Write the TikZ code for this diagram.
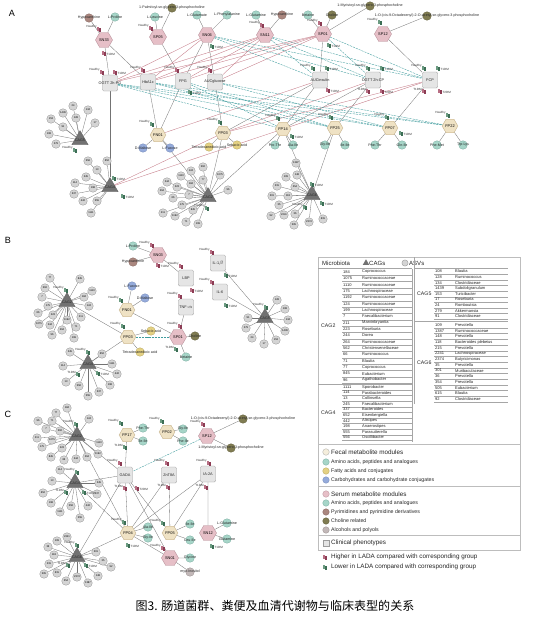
\documentclass[tikz,border=0pt]{standalone}
\usepackage{fontspec}
\setmainfont{Liberation Sans}
\newfontfamily\cjk{Noto Sans CJK SC}
\usetikzlibrary{shapes.geometric}
\pgfdeclarelayer{bg}
\pgfsetlayers{bg,main}
\definecolor{serumF}{HTML}{E6BFC7}
\definecolor{serumD}{HTML}{B08690}
\definecolor{fecalF}{HTML}{EFE2C4}
\definecolor{fecalD}{HTML}{BCA67C}
\definecolor{clinF}{HTML}{E5E5E5}
\definecolor{clinD}{HTML}{9C9C9C}
\definecolor{asvF}{HTML}{D4D4D4}
\definecolor{asvD}{HTML}{878787}
\definecolor{cagF}{HTML}{727272}
\definecolor{aminoF}{HTML}{A6D5C8}
\definecolor{aminoD}{HTML}{6EA596}
\definecolor{fattyF}{HTML}{E4D183}
\definecolor{fattyD}{HTML}{B09C4E}
\definecolor{carbF}{HTML}{95ABDB}
\definecolor{carbD}{HTML}{6A80B2}
\definecolor{pyrF}{HTML}{AA877F}
\definecolor{pyrD}{HTML}{7C5C55}
\definecolor{cholF}{HTML}{807C52}
\definecolor{cholD}{HTML}{57542F}
\definecolor{alcF}{HTML}{C2B8B8}
\definecolor{alcD}{HTML}{8E8484}
\definecolor{edgeR}{HTML}{C67C88}
\definecolor{edgeT}{HTML}{3F9C9E}
\definecolor{mkR}{HTML}{8C3C54}
\definecolor{mkRL}{HTML}{B86F84}
\definecolor{mkG}{HTML}{3C6E55}
\definecolor{mkGL}{HTML}{6C9C82}
\definecolor{boxD}{HTML}{BDBDBD}
\tikzset{
 lbl/.style={font=\fontsize{3.6}{4}\selectfont, inner sep=0pt, text=black!85},
 clbl/.style={font=\fontsize{3.8}{4}\selectfont, inner sep=0pt, text=black!85},
 plbl/.style={font=\fontsize{9}{10}\selectfont, inner sep=0pt},
 mklbl/.style={font=\fontsize{3}{3.5}\selectfont, inner sep=0pt, text=black!80},
 serum/.style={regular polygon, regular polygon sides=6, minimum size=6mm, inner sep=0pt, fill=serumF, draw=serumD, line width=0.3pt, font=\fontsize{3.9}{4}\selectfont},
 fecal/.style={regular polygon, regular polygon sides=6, minimum size=5.5mm, inner sep=0pt, fill=fecalF, draw=fecalD, line width=0.3pt, font=\fontsize{3.9}{4}\selectfont},
 clinic/.style={rectangle, rounded corners=0.5mm, minimum width=5.4mm, minimum height=5.6mm, fill=clinF, draw=clinD, line width=0.3pt},
 asv/.style={circle, minimum size=3mm, inner sep=0pt, fill=asvF, draw=asvD, line width=0.25pt, font=\fontsize{2.6}{3}\selectfont},
 cag/.style={regular polygon, regular polygon sides=3, minimum size=6.6mm, inner sep=0pt, fill=cagF, draw=cagF!80!black, line width=0.3pt},
 metb/.style={circle, minimum size=3mm, inner sep=0pt, line width=0.25pt},
 amino/.style={metb, fill=aminoF, draw=aminoD},
 fatty/.style={metb, fill=fattyF, draw=fattyD},
 carb/.style={metb, fill=carbF, draw=carbD},
 pyr/.style={metb, fill=pyrF, draw=pyrD},
 chol/.style={metb, fill=cholF, draw=cholD},
 alc/.style={metb, fill=alcF, draw=alcD},
 memb/.style={draw=black!55, line width=0.3pt},
 posedge/.style={draw=edgeR, line width=0.35pt},
 negedge/.style={draw=edgeT, line width=0.35pt, dash pattern=on 2.2pt off 0.9pt},
 tbl/.style={font=\fontsize{4}{4.5}\selectfont, inner sep=0pt, anchor=west, text=black!85},
 tline/.style={draw=black!35, line width=0.2pt},
 legh/.style={font=\fontsize{6.3}{7}\selectfont, inner sep=0pt, anchor=west, text=black!85},
 legs/.style={font=\fontsize{5.2}{6}\selectfont, inner sep=0pt, anchor=west, text=black!85},
 pics/hmk/.style={code={\fill[mkRL] (-1.8,-2.4) rectangle (0.2,2.2); \fill[mkR] (0,-1.2) rectangle (2,2.6); \node[mklbl,anchor=east] at (-2.2,-2) {#1};}},
 pics/hmkr/.style={code={\fill[mkRL] (-1.8,-2.4) rectangle (0.2,2.2); \fill[mkR] (0,-1.2) rectangle (2,2.6); \node[mklbl,anchor=west] at (2.4,1) {#1};}},
 pics/lmk/.style={code={\fill[mkGL] (-1.8,-2.4) rectangle (0.2,2.2); \fill[mkG] (0,-1.2) rectangle (2,2.6); \node[mklbl,anchor=east] at (-2.2,-2) {#1};}},
 pics/lmkr/.style={code={\fill[mkGL] (-1.8,-2.4) rectangle (0.2,2.2); \fill[mkG] (0,-1.2) rectangle (2,2.6); \node[mklbl,anchor=west] at (2.4,1) {#1};}},
}
\newcommand{\met}[5]{\node[#2] (#1) at (#3,#4) {}; \node[lbl] (#1t) at (#1) {#5};}
\newcommand{\clin}[4]{\node[clinic] (#1) at (#2,#3) {}; \node[clbl] (#1t) at (#1) {#4};}
\newcommand{\cagn}[4]{\node[cag] (#1) at (#2,#3) {}; \node[lbl] (#1t) at (#1) {#4};}
\newcommand{\asvs}[3]{\foreach \x/\y/\t in {#3}{\node[asv] (#1-\t) at (\x,\y) {\t}; \begin{pgfonlayer}{bg}\draw[memb] (#1-\t) -- (#2);\end{pgfonlayer}}}
\newcommand{\links}[2]{\begin{pgfonlayer}{bg}\foreach \a/\b in {#2}{\draw[#1] (\a) -- (\b);}\end{pgfonlayer}}
\newcommand{\hms}[1]{\foreach \x/\y/\t in {#1}{\pic at (\x,\y) {hmk=\t};}}
\newcommand{\hmrs}[1]{\foreach \x/\y/\t in {#1}{\pic at (\x,\y) {hmkr=\t};}}
\newcommand{\lms}[1]{\foreach \x/\y/\t in {#1}{\pic at (\x,\y) {lmk=\t};}}
\newcommand{\lmrs}[1]{\foreach \x/\y/\t in {#1}{\pic at (\x,\y) {lmkr=\t};}}
\begin{document}
\begin{tikzpicture}[x=0.35mm,y=-0.35mm]
\begin{pgfonlayer}{bg}
\fill[white] (0,0) rectangle (548,624);
\end{pgfonlayer}
\useasboundingbox (0,0) rectangle (548,624);

%%%%%%%%%%%%%%%% PANEL A
\node[plbl] (pA) at (12,13) {A};
\met{hypA}{pyr}{89}{18}{Hypoxanthine}
\met{proA}{amino}{115}{17}{L-Proline}
\met{palA}{chol}{172}{8}{1-Palmitoyl-sn-glycero-3-phosphocholine}
\met{leuA}{amino}{155}{17}{L-Leucine}
\met{gluA}{amino}{197}{15}{L-Glutamate}
\met{pheA}{amino}{227}{15}{L-Phenylalanine}
\met{glnA}{amino}{256}{15}{L-Glutamine}
\met{hyxA}{pyr}{282}{15}{Hypoxanthine}
\met{betA}{amino}{308}{15}{Betaine}
\met{choA}{chol}{332}{15}{Choline}
\met{myrA}{chol}{370}{6}{1-Myristoyl-sn-glycero-3-phosphocholine}
\met{oleA}{chol}{427}{16}{1-O-(cis-9-Octadecenyl)-2-O-acetyl-sn-glycero-3-phosphocholine}

\node[serum] (sn33) at (104,40) {SN33};
\node[serum] (sp05) at (158,37) {SP05};
\node[serum] (sn06) at (207,35) {SN06};
\node[serum] (sn11) at (265,35) {SN11};
\node[serum] (sp01) at (323,34) {SP01};
\node[serum] (sp12) at (383,34) {SP12};

\clin{ogA}{110}{83}{OGTT 2h-PG}
\clin{hbA}{148}{82}{HbA1c}
\clin{fpgA}{183}{81}{FPG}
\clin{aucgA}{215}{82}{AUCglucose}
\clin{auciA}{320}{80}{AUCinsulin}
\clin{ogcA}{373}{80}{OGTT 2h-CP}
\clin{fcpA}{430}{80}{FCP}

\node[fecal] (fn01A) at (158,135) {FN01};
\node[fecal] (fp03A) at (223,133) {FP03};
\node[fecal] (fp14A) at (283,129) {FP14};
\node[fecal] (fp25A) at (335,128) {FP25};
\node[fecal] (fp07A) at (390,128) {FP07};
\node[fecal] (fp22A) at (450,126) {FP22};

\met{maltA}{carb}{143}{148}{D-Maltose}
\met{fucA}{carb}{170}{148}{L-Fucose}
\met{fa1A}{fatty}{209}{147}{Tetradecanedioic acid}
\met{fa2A}{fatty}{237}{145}{Sebacic acid}
\met{p1A}{amino}{275}{145}{Pro-Thr}
\met{p2A}{amino}{293}{145}{Ala-Ile}
\met{p3A}{amino}{325}{145}{Gly-Ile}
\met{p4A}{amino}{345}{145}{Ile-Ile}
\met{p5A}{amino}{375}{145}{Phe-Thr}
\met{p6A}{amino}{402}{145}{Gln-Ile}
\met{p7A}{amino}{437}{145}{Phe-Met}
\met{p8A}{amino}{463}{145}{Trp-Lys}

\cagn{cag5A}{80}{140}{CAG5}
\cagn{cag4A}{110}{187}{CAG4}
\cagn{cag2A}{208}{197}{CAG2}
\cagn{cag6A}{312}{195}{CAG6}

\asvs{a5}{cag5A}{73/106/24, 88/110/134, 63/113/1439, 76/118/128, 51/119/153, 95/123/17, 63/127/91, 49/134/108, 56/144/279}
\asvs{a4}{cag4A}{88/161/556, 107/161/652, 97/170/13, 86/177/245, 75/183/114, 93/188/198, 74/194/337, 83/201/442, 97/201/555, 91/213/1111}
\asvs{a2}{cag2A}{203/167/562, 191/171/124, 220/175/1075, 181/176/1110, 203/180/77, 167/182/244, 177/187/223, 191/184/184, 228/190/96, 162/191/264, 189/195/7, 173/198/66, 182/205/175, 193/210/845, 163/213/211, 175/216/1192, 186/222/71, 198/224/199}
\asvs{a6}{cag6A}{296/163/1387, 297/175/148, 286/177/109, 277/186/215, 295/187/354, 272/196/301, 288/196/118, 279/205/35, 284/215/2241, 295/214/36, 271/216/92, 294/225/505, 309/222/2374, 323/219/615}

\links{memb}{hypA/sn33, proA/sn33, palA/sp05, leuA/sp05, gluA/sn06, pheA/sn06, glnA/sn11, hyxA/sn11, betA/sp01, choA/sp01, myrA/sp01, oleA/sp12, fn01A/maltA, fn01A/fucA, fp03A/fa1A, fp03A/fa2A, fp14A/p1A, fp14A/p2A, fp25A/p3A, fp25A/p4A, fp07A/p5A, fp07A/p6A, fp22A/p7A, fp22A/p8A}
\links{memb}{sn33/ogA, sn33/hbA, sp05/fpgA, sn06/fpgA, sn06/aucgA, sp12/fcpA, sp01/auciA, ogA/cag4A, hbA/fn01A, fpgA/fn01A, aucgA/fp03A, auciA/fp03A, auciA/fp14A, ogcA/fp14A, ogcA/fp25A, fcpA/fp07A, fp03A/cag2A, fp14A/cag2A, fp14A/cag6A, fn01A/cag2A, fp25A/cag6A}
\links{posedge}{sn06/ogA, sn06/hbA, sn11/ogA, sn11/hbA, sn11/fpgA, sn11/aucgA, sp01/ogA, sp01/hbA, sp01/fpgA, sp01/aucgA, fp03A/cag4A, fp14A/cag4A, auciA/fn01A, ogcA/fp03A, fcpA/fp14A, fcpA/fp03A}
\links{negedge}{sn06/auciA, sn06/ogcA, sn06/fcpA, sn11/auciA, sn11/ogcA, sn11/fcpA, sp01/ogcA, sp01/fcpA, ogA/fp14A, ogA/fp25A, ogA/fp07A, ogA/fp22A, hbA/fp25A, hbA/fp07A, fpgA/fp14A, aucgA/fp22A, aucgA/fp07A, hbA/fp22A, fpgA/fp25A}

\hms{99/29/Healthy, 151/28/Healthy, 262/25/Healthy, 320/23/Healthy, 102/72/Healthy, 143/70/Healthy, 177/70/Healthy, 210/70/Healthy, 368/91/T1DM, 424/91/T1DM}
\hmrs{104/53/T1DM, 115/72/T1DM, 328/90/T1DM, 382/91/T2DM, 440/91/T2DM}
\lms{380/22/Healthy, 313/68/Healthy, 368/68/Healthy, 424/68/Healthy, 152/124/Healthy, 220/122/Healthy, 278/118/Healthy, 331/117/Healthy, 387/117/Healthy, 448/115/Healthy, 75/150/Healthy, 207/208/Healthy, 305/207/Healthy}
\lmrs{212/46/T1DM, 329/45/T1DM, 190/92/T1DM, 327/68/T1DM, 382/68/T1DM, 438/68/T1DM, 292/136/T1DM, 401/133/T1DM, 114/178/T1DM, 123/196/T1DM, 312/184/T1DM, 322/203/T1DM}

%%%%%%%%%%%%%%%% PANEL B
\node[plbl] (pB) at (8,240) {B};
\node[serum] (sn03B) at (158,255) {SN03};
\met{proB}{amino}{133}{246}{L-Proline}
\met{hypB}{pyr}{133}{262}{Hypoxanthine}
\clin{lbpB}{186}{278}{LBP}
\clin{il1B}{218}{263}{IL-1$\beta$}
\clin{il6B}{220}{292}{IL-6}
\clin{tnfB}{186}{307}{TNF-$\alpha$}
\node[fecal] (fn01B) at (127,310) {FN01};
\met{fucB}{carb}{132}{286}{L-Fucose}
\met{maltB}{carb}{145}{298}{D-Maltose}
\node[fecal] (fp03B) at (128,337) {FP03};
\met{sebB}{fatty}{151}{331}{Sebacic acid}
\met{tetB}{fatty}{140}{352}{Tetradecanedioic acid}
\node[serum] (sp01B) at (178,337) {SP01};
\met{chB}{chol}{195}{336}{Choline}
\met{betB}{amino}{186}{357}{Betaine}
\cagn{cag2B}{67}{302}{CAG2}
\cagn{cag5B}{265}{318}{CAG5}
\cagn{cag4B}{88}{364}{CAG4}

\asvs{b2}{cag2B}{50/278/77, 80/279/845, 45/288/562, 92/291/1110, 42/297/7, 84/297/184, 89/306/124, 48/306/175, 53/315/223, 38/313/66, 67/320/1192, 81/317/211, 39/324/1075, 50/325/244, 62/330/264, 52/335/96, 76/327/71, 74/338/199}
\asvs{b5}{cag5B}{277/300/128, 285/309/108, 288/320/134, 285/331/1439, 276/340/153, 264/344/17, 252/338/24, 246/328/279, 248/318/91}
\asvs{b4}{cag4B}{70/352/245, 102/354/652, 63/366/114, 112/364/1111, 66/382/13, 79/386/556, 117/374/442, 110/385/198, 99/392/337, 88/396/555}

\links{memb}{proB/sn03B, hypB/sn03B, fn01B/fucB, fn01B/maltB, fp03B/sebB, fp03B/tetB, sp01B/chB, sp01B/betB}
\links{memb}{sn03B/lbpB, il1B/cag5B, il6B/cag5B, tnfB/sp01B, cag2B/fp03B, fn01B/sp01B, fp03B/cag4B}
\links{negedge}{fp03B/sp01B}

\hms{152/245/Healthy, 181/266/Healthy, 212/252/Healthy, 212/282/Healthy, 180/296/Healthy, 180/326/Healthy}
\hmrs{158/265/T1DM, 192/290/T1DM}
\lms{66/290/Healthy, 121/300/Healthy, 123/326/Healthy, 266/307/Healthy, 88/352/Healthy, 176/349/T1DM, 78/374/T1DM}
\lmrs{226/275/T1DM, 226/305/T1DM, 98/373/T1DM}

%%%%%%%%%%%%%%%% PANEL C
\node[plbl] (pC) at (8,414) {C};
\cagn{cag2C}{77}{436}{CAG2}
\cagn{cag4C}{75}{483}{CAG4}
\cagn{cag6C}{77}{557}{CAG6}
\node[fecal] (fp17C) at (127,435) {FP17};
\met{q1C}{amino}{143}{428}{Phe-Thr}
\met{q2C}{amino}{143}{441}{Ile-Ile}
\node[fecal] (fp02C) at (167,432) {FP02};
\met{q3C}{amino}{183}{429}{Gly-Ile}
\met{q4C}{amino}{183}{441}{Phe-Ile}
\node[serum] (sp12C) at (207,436) {SP12};
\met{o1C}{chol}{243}{419}{1-O-(cis-9-Octadecenyl)-2-O-acetyl-sn-glycero-3-phosphocholine}
\met{o2C}{chol}{231}{448}{1-Myristoyl-sn-glycero-3-phosphocholine}
\clin{gadaC}{125}{475}{GADA}
\clin{znC}{169}{475}{ZnT8A}
\clin{iaC}{208}{474}{IA-2A}
\node[fecal] (fp04C) at (128,533) {FP04};
\met{q5C}{amino}{148}{527}{Ala-Ile}
\met{q6C}{amino}{148}{538}{Gly-Ile}
\node[fecal] (fp05C) at (170,533) {FP05};
\met{q7C}{amino}{190}{524}{Ile-Ile}
\met{q8C}{amino}{190}{540}{Leu-Ile}
\node[serum] (sn12C) at (208,533) {SN12};
\met{q9C}{amino}{227}{523}{L-Glutamine}
\met{q10C}{amino}{227}{539}{Glutamine}
\node[serum] (sn01C) at (170,558) {SN01};
\met{q11C}{amino}{190}{558}{Glycine}
\met{i1C}{alc}{190}{572}{myo-Inositol}

\asvs{c2}{cag2C}{67/408/184, 56/413/77, 38/421/96, 52/421/71, 89/419/124, 46/429/7, 60/431/562, 37/438/211, 52/440/1075, 42/447/175, 62/448/223, 99/443/1110, 51/457/845, 64/460/66, 76/459/244, 87/457/264, 98/454/1192}
\asvs{c4}{cag4C}{60/470/114, 52/481/13, 99/483/245, 97/494/337, 43/493/652, 51/503/198, 60/512/1111, 71/506/556, 88/506/442, 80/518/555}
\asvs{c6}{cag6C}{67/537/2241, 57/541/109, 48/547/36, 54/555/118, 49/564/215, 44/574/505, 57/573/615, 66/581/354, 77/577/2374, 88/583/1387, 98/576/148, 96/552/301, 103/561/35, 111/567/92}

\links{memb}{fp17C/q1C, fp17C/q2C, fp02C/q3C, fp02C/q4C, sp12C/o1C, sp12C/o2C, fp04C/q5C, fp04C/q6C, fp05C/q7C, fp05C/q8C, sn12C/q9C, sn12C/q10C, sn01C/q11C, sn01C/i1C}
\links{memb}{cag2C/gadaC, cag4C/gadaC, fp17C/gadaC, gadaC/fp04C, gadaC/sn01C, gadaC/fp05C, znC/fp05C, znC/fp04C, iaC/fp05C, iaC/sn12C, iaC/fp04C, cag2C/fp04C, cag4C/fp04C, cag6C/fp04C, cag6C/gadaC, fp04C/sn01C}
\links{negedge}{sp12C/gadaC}

\hms{203/424/Healthy, 120/463/Healthy, 125/488/T1DM, 167/463/Healthy, 168/487/T1DM, 209/463/Healthy, 206/487/T1DM, 163/548/Healthy}
\hmrs{137/488/T2DM}
\lms{76/424/Healthy, 77/472/Healthy, 66/492/T1DM, 121/423/Healthy, 125/447/T1DM, 162/421/Healthy, 124/522/Healthy, 163/523/Healthy, 77/545/Healthy, 68/565/T1DM}
\lmrs{84/492/T1DM, 212/546/T1DM, 128/545/T1DM, 86/565/T1DM}

%%%%%%%%%%%%%%%% LEGEND
\draw[boxD, line width=0.4pt] (318,257) rectangle (520,550);
\node[legh, font=\fontsize{6}{7}\selectfont] (hMic) at (322,263) {Microbiota};
\node[regular polygon, regular polygon sides=3, minimum size=2.6mm, inner sep=0pt, fill=cagF] (hTri) at (366,263) {};
\node[legh, font=\fontsize{6}{7}\selectfont] (hCag) at (369,263) {CAGs};
\node[circle, minimum size=2.2mm, inner sep=0pt, fill=asvF, draw=asvD, line width=0.25pt] (hCir) at (405,263) {};
\node[legh, font=\fontsize{6}{7}\selectfont] (hAsv) at (409,263) {ASVs};
% left table
\draw[tline] (318,268.5) -- (412,268.5);
\foreach \n/\t [count=\i] in {184/Coprococcus, 1075/Ruminococcaceae, 1110/Ruminococcaceae, 175/Lachnospiraceae, 1192/Ruminococcaceae, 124/Ruminococcaceae, 199/Lachnospiraceae, 7/Faecalibacterium, 211/Marvinbryantia, 223/Roseburia, 244/Dorea, 264/Ruminococcaceae, 562/Christensenellaceae, 66/Ruminococcus, 71/Blautia, 77/Coprococcus, 845/Eubacterium, 96/Agathobacter}{
  \node[tbl] (La\i) at (343,{272+(\i-1)*6.35}) {\n};
  \node[tbl] (Lb\i) at (362,{272+(\i-1)*6.35}) {\t};
  \draw[tline] (342,{275.2+(\i-1)*6.35}) -- (412,{275.2+(\i-1)*6.35});
}
\node[tbl, font=\fontsize{5.2}{6}\selectfont] (Lc2) at (321,326) {CAG2};
\draw[tline] (318,383.6) -- (412,383.6);
\foreach \n/\t [count=\i] in {1111/Sporobacter, 114/Parabacteroides, 13/Collinsella, 245/Faecalibacterium, 337/Bacteroides, 652/Eisenbergiella, 442/Alistipes, 198/Anaerostipes, 555/Parasutterella, 556/Oscillibacter}{
  \node[tbl] (Ma\i) at (343,{387+(\i-1)*5.6}) {\n};
  \node[tbl] (Mb\i) at (362,{387+(\i-1)*5.6}) {\t};
  \draw[tline] (342,{389.8+(\i-1)*5.6}) -- (412,{389.8+(\i-1)*5.6});
}
\node[tbl, font=\fontsize{5.2}{6}\selectfont] (Lc4) at (321,413) {CAG4};
\draw[tline] (412,268.5) -- (412,442);
% right table
\draw[tline] (414,257) -- (414,404);
\draw[tline] (414,268.5) -- (508,268.5);
\foreach \n/\t [count=\i] in {108/Blautia, 128/Ruminococcus, 134/Clostridiaceae, 1439/Subdoligranulum, 153/Turicibacter, 17/Roseburia, 24/Romboutsia, 279/Akkermansia, 91/Clostridiaceae}{
  \node[tbl] (Ra\i) at (435,{271.5+(\i-1)*5.6}) {\n};
  \node[tbl] (Rb\i) at (455,{271.5+(\i-1)*5.6}) {\t};
  \draw[tline] (434,{274.3+(\i-1)*5.6}) -- (508,{274.3+(\i-1)*5.6});
}
\node[tbl, font=\fontsize{5.2}{6}\selectfont] (Rc5) at (417,294) {CAG5};
\draw[tline] (414,321) -- (508,321);
\foreach \n/\t [count=\i] in {109/Prevotella, 1387/Ruminococcaceae, 148/Prevotella, 118/Bacteroides plebeius, 215/Prevotella, 2241/Lachnospiraceae, 2374/Butyricimonas, 35/Prevotella, 301/Muribaculaceae, 36/Prevotella, 354/Prevotella, 505/Eubacterium, 615/Blautia, 92/Clostridiaceae}{
  \node[tbl] (Sa\i) at (435,{325+(\i-1)*5.7}) {\n};
  \node[tbl] (Sb\i) at (455,{325+(\i-1)*5.7}) {\t};
  \draw[tline] (434,{327.8+(\i-1)*5.7}) -- (508,{327.8+(\i-1)*5.7});
}
\node[tbl, font=\fontsize{5.2}{6}\selectfont] (Rc6) at (417,363) {CAG6};
% legend lower
\draw[boxD, line width=0.4pt] (318,444) -- (520,444);
\draw[boxD, line width=0.4pt] (318,486) -- (520,486);
\draw[boxD, line width=0.4pt] (318,535) -- (520,535);
\node[circle, minimum size=2.3mm, inner sep=0pt, fill=fecalF!60!white, draw=clinD, line width=0.25pt] (g1) at (326,452) {};
\node[legh] (g1t) at (331,452) {Fecal metabolite modules};
\node[amino, minimum size=2.3mm] (g2) at (326,462) {};
\node[legs] (g2t) at (331,462) {Amino acids, peptides and analogues};
\node[fatty, minimum size=2.3mm] (g3) at (326,471) {};
\node[legs] (g3t) at (331,471) {Fatty acids and conjugates};
\node[carb, minimum size=2.3mm] (g4) at (326,480) {};
\node[legs] (g4t) at (331,480) {Carbohydrates and carbohydrate conjugates};
\node[circle, minimum size=2.3mm, inner sep=0pt, fill=serumF, draw=serumD, line width=0.25pt] (g5) at (326,494) {};
\node[legh] (g5t) at (331,494) {Serum metabolite modules};
\node[amino, minimum size=2.3mm] (g6) at (326,503) {};
\node[legs] (g6t) at (331,503) {Amino acids, peptides and analogues};
\node[pyr, minimum size=2.3mm] (g7) at (326,512) {};
\node[legs] (g7t) at (331,512) {Pyrimidines and pyrimidine derivatives};
\node[chol, minimum size=2.3mm] (g8) at (326,521) {};
\node[legs] (g8t) at (331,521) {Choline related};
\node[alc, minimum size=2.3mm] (g9) at (326,530) {};
\node[legs] (g9t) at (331,530) {Alcohols and polyols};
\node[rectangle, minimum size=2.3mm, inner sep=0pt, fill=clinF, draw=clinD, line width=0.25pt] (g10) at (326,543) {};
\node[legh] (g10t) at (331,543) {Clinical phenotypes};
\pic at (325,557) {hmk=};
\node[legh] (g11t) at (331,557) {Higher in LADA compared with corresponding group};
\pic at (325,567) {lmk=};
\node[legh] (g12t) at (331,567) {Lower in LADA compared with corresponding group};

%%%%%%%%%%%%%%%% CAPTION
\node[inner sep=0pt] (cap) at (275,606) {\cjk\fontsize{12}{14}\selectfont 图3. 肠道菌群、粪便及血清代谢物与临床表型的关系};
\end{tikzpicture}
\end{document}
